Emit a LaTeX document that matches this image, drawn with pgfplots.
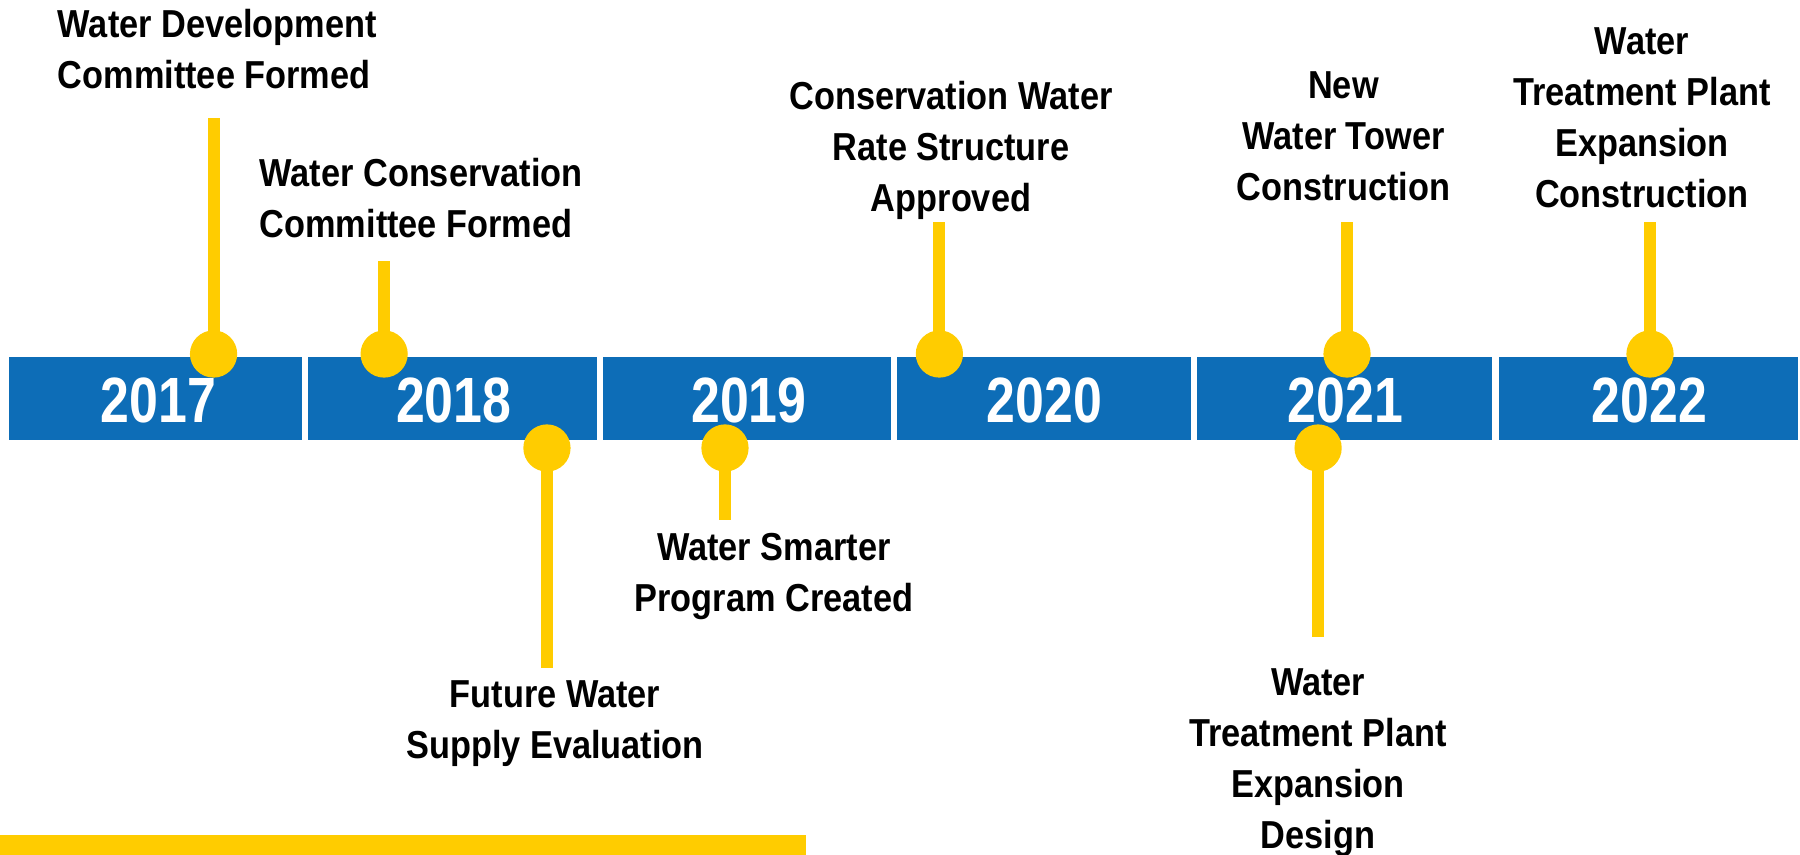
\documentclass[border=0pt]{standalone}
\usepackage{pgfplots}
\pgfplotsset{compat=1.18}
\usepackage{fontspec}
\setmainfont{Liberation Sans}[FakeStretch=0.88]
\newfontfamily\yearfont{Liberation Sans}[FakeStretch=0.81]
\definecolor{tlblue}{HTML}{0D6DB7}
\definecolor{tlyellow}{HTML}{FFCC00}
\newcommand{\lbl}[1]{\fontsize{9.75pt}{12.75pt}\selectfont\bfseries\renewcommand{\arraystretch}{1}#1}
\newcommand{\seg}[3]{%
  \addplot[tlblue, line width=20.75pt, forget plot] coordinates {(#1,398.5) (#2,398.5)};
  \node[anchor=base, inner sep=0, text=white, font=\yearfont\bfseries\fontsize{16pt}{16pt}\selectfont] at (axis cs:{(#1+#2)/2+0.0115},423) {#3};
}
\begin{document}
\begin{tikzpicture}
\begin{axis}[name=ax, width=450pt, height=213.75pt, scale only axis,
  xmin=2016.9698, xmax=2023.006, ymin=0, ymax=855, y dir=reverse,
  hide axis, clip=false]
% year segments
\seg{2017.000}{2017.983}{2017}
\seg{2018.003}{2018.972}{2018}
\seg{2018.992}{2019.958}{2019}
\seg{2019.978}{2020.964}{2020}
\seg{2020.984}{2021.973}{2021}
\seg{2021.997}{2022.999}{2022}
% bottom decorative bar
\addplot[tlyellow, line width=5pt] coordinates {(2016.9698,845) (2019.673,845)};
% event stems (dot at timeline, line to label)
\pgfplotsset{stem/.style={tlyellow, line width=3pt, mark=*, mark indices={1}, mark size=4.4pt, mark options={draw=none, fill=tlyellow}}}
\addplot[stem] coordinates {(2017.686,354) (2017.686,118)};
\addplot[stem] coordinates {(2018.258,354) (2018.258,261)};
\addplot[stem] coordinates {(2020.120,354) (2020.120,222)};
\addplot[stem] coordinates {(2021.487,354) (2021.487,222)};
\addplot[stem] coordinates {(2022.503,354) (2022.503,222)};
\addplot[stem] coordinates {(2018.804,448) (2018.804,668)};
\addplot[stem] coordinates {(2019.401,448) (2019.401,520)};
\addplot[stem] coordinates {(2021.390,448) (2021.390,637)};
% event labels
\node[anchor=base west, inner sep=0] at (axis cs:2017.161,38) {\lbl{\begin{tabular}[t]{@{}l@{}}Water Development\\Committee Formed\end{tabular}}};
\node[anchor=base west, inner sep=0] at (axis cs:2017.838,187) {\lbl{\begin{tabular}[t]{@{}l@{}}Water Conservation\\Committee Formed\end{tabular}}};
\node[anchor=base, inner sep=0] at (axis cs:2020.159,110) {\lbl{\begin{tabular}[t]{@{}c@{}}Conservation Water\\Rate Structure\\Approved\end{tabular}}};
\node[anchor=base, inner sep=0] at (axis cs:2021.475,99) {\lbl{\begin{tabular}[t]{@{}c@{}}New\\Water Tower\\Construction\end{tabular}}};
\node[anchor=base, inner sep=0] at (axis cs:2022.476,55) {\lbl{\begin{tabular}[t]{@{}c@{}}Water\\Treatment Plant\\Expansion\\Construction\end{tabular}}};
\node[anchor=base, inner sep=0] at (axis cs:2018.831,707) {\lbl{\begin{tabular}[t]{@{}c@{}}Future Water\\Supply Evaluation\end{tabular}}};
\node[anchor=base, inner sep=0] at (axis cs:2019.565,560) {\lbl{\begin{tabular}[t]{@{}c@{}}Water Smarter\\Program Created\end{tabular}}};
\node[anchor=base, inner sep=0] at (axis cs:2021.390,695) {\lbl{\begin{tabular}[t]{@{}c@{}}Water\\Treatment Plant\\Expansion\\Design\end{tabular}}};
\end{axis}
\pgfresetboundingbox
\path (ax.south west) rectangle (ax.north east);
\end{tikzpicture}
\end{document}
